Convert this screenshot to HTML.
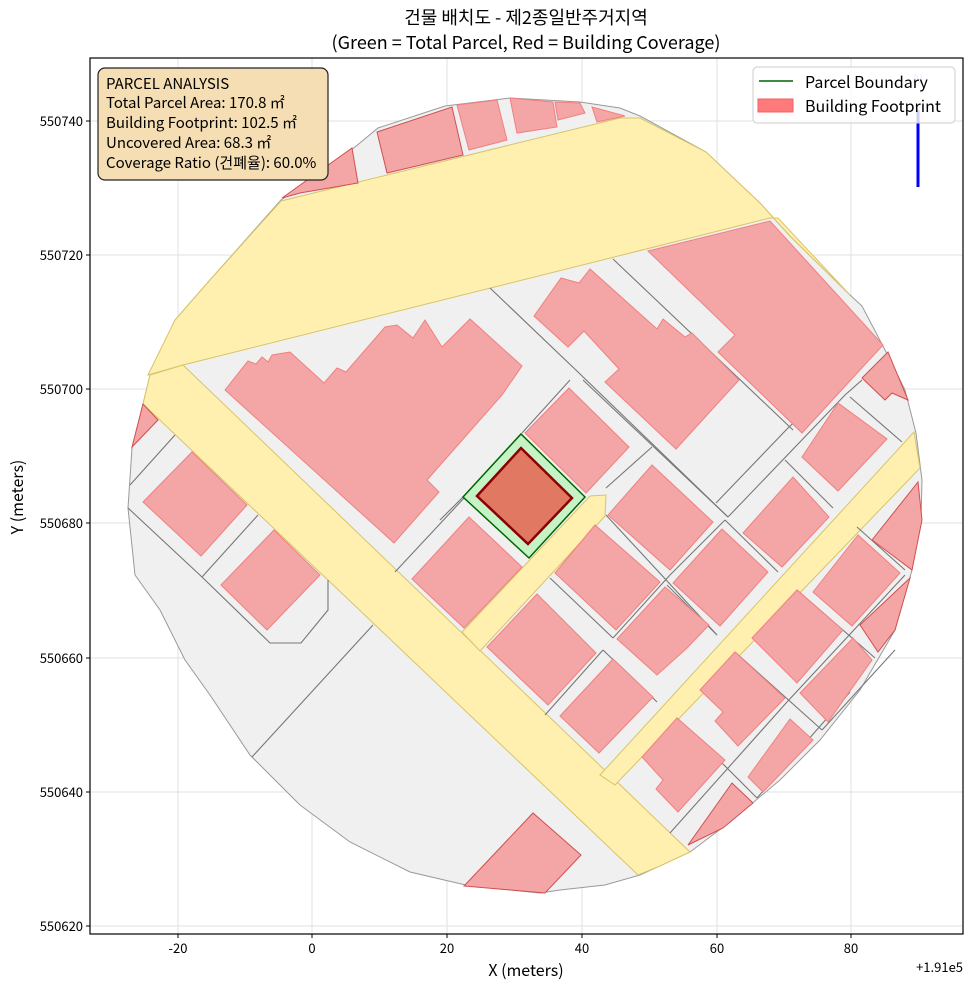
<!DOCTYPE html>
<html><head><meta charset="utf-8"><style>
html,body{margin:0;padding:0;background:#fff;}
svg{display:block;font-family:"Noto Sans CJK KR","Liberation Sans",sans-serif;}
</style></head><body>
<svg width="972" height="990" viewBox="0 0 972 990" xmlns="http://www.w3.org/2000/svg">
<rect width="972" height="990" fill="#fff"/>
<g stroke="#e2e2e2" stroke-width="1">
<line x1="178" y1="58" x2="178" y2="934"/><line x1="312" y1="58" x2="312" y2="934"/><line x1="447" y1="58" x2="447" y2="934"/><line x1="582" y1="58" x2="582" y2="934"/><line x1="717" y1="58" x2="717" y2="934"/><line x1="851" y1="58" x2="851" y2="934"/>
<line x1="90" y1="121" x2="963" y2="121"/><line x1="90" y1="255" x2="963" y2="255"/><line x1="90" y1="389" x2="963" y2="389"/><line x1="90" y1="523" x2="963" y2="523"/><line x1="90" y1="658" x2="963" y2="658"/><line x1="90" y1="792" x2="963" y2="792"/><line x1="90" y1="926" x2="963" y2="926"/>
</g>
<polygon fill="#f0f0f0" stroke="#999" stroke-width="1" points="281,200 355,147 378,128 445,106 510,98 580,102 620,108 640,116 706,152 760,203 790,236 850,295 862,306 885,350 905,390 916,433 922,480 921,520 912,570 895,630 860,690 820,740 780,780 730,822 690,852 640,875 605,885 560,890 540,893 470,886 410,872 350,842 300,805 250,755 210,695 185,660 160,610 135,575 128,508 132,448 143,404 150,375 175,320 210,280"/>
<g fill="#fff0b0" stroke="#d8c468" stroke-width="1">
<polygon points="281,201 620,118 640,118 706,152 760,203 790,236 850,295 778,218 770,218 183,365 148,375 175,320 210,280"/>
<polygon points="150,375 183,365 690,852 660,866 638,875 143,404"/>
<polygon points="462,632 590,496 606,495 605,516 480,651"/>
<polygon points="600,775 914,432 920,468 615,785"/>
</g>
<g stroke="#777" stroke-width="1.1" fill="none">
<polyline points="490,288 579,373 728,517"/>
<line x1="613" y1="259" x2="793" y2="430"/>
<line x1="850" y1="397" x2="902" y2="442"/>
<line x1="583" y1="380" x2="728" y2="517"/>
<line x1="606" y1="515" x2="717" y2="635"/>
<line x1="550" y1="578" x2="613" y2="638"/>
<line x1="603" y1="650" x2="657" y2="702"/>
<line x1="785" y1="460" x2="833" y2="508"/>
<line x1="725" y1="520" x2="778" y2="572"/>
<line x1="667" y1="585" x2="717" y2="635"/>
<line x1="797" y1="590" x2="875" y2="658"/>
<line x1="735" y1="652" x2="822" y2="730"/>
<line x1="677" y1="718" x2="757" y2="798"/>
<line x1="857" y1="527" x2="905" y2="570"/>
<line x1="522" y1="433" x2="570" y2="380"/>
<line x1="440" y1="520" x2="463" y2="497"/>
<line x1="652" y1="447" x2="606" y2="488"/>
<polyline points="716,503 788,428 855,365"/>
<polyline points="728,517 845,395 862,380"/>
<line x1="670" y1="575" x2="725" y2="520"/>
<line x1="613" y1="638" x2="670" y2="575"/>
<line x1="545" y1="715" x2="603" y2="650"/>
<line x1="670" y1="833" x2="787" y2="702"/>
<line x1="787" y1="702" x2="905" y2="575"/>
<line x1="757" y1="798" x2="850" y2="692"/>
<line x1="822" y1="730" x2="895" y2="650"/>
<line x1="130" y1="485" x2="175" y2="435"/>
<polyline points="128,508 202,577 270,643 301,643 328,610 328,580"/>
<line x1="202" y1="577" x2="258" y2="515"/>
<line x1="252" y1="757" x2="373" y2="625"/>
<line x1="395" y1="572" x2="465" y2="497"/>
</g>
<g fill="#f4a5a5" stroke="#f08080" stroke-width="1">
<polygon points="225,390 248,361 256,364 262,357 268,362 272,355 290,352 324,383 337,368 346,372 385,327 397,325 413,338 425,320 442,347 470,319 522,366 502,395 427,480 439,492 394,543"/>
<polygon points="534,316 561,278 579,283 590,269 657,329 663,319 685,337 692,333 739,380 676,449 605,382 619,369 584,331 568,347"/>
<polygon points="648,251 770,221 883,345 802,433 718,352 735,335"/>
<polygon points="282,198 352,148 358,183 300,193" stroke="#d05050"/>
<polygon points="377,132 452,107 463,155 387,173" stroke="#d05050"/>
<polygon points="457,105 497,100 507,140 469,150"/>
<polygon points="510,98 553,102 557,127 517,133"/>
<polygon points="555,102 580,103 585,113 558,120"/>
<polygon points="592,107 625,116 597,122"/>
<polygon points="862,378 888,352 908,400 892,393 885,400" stroke="#d05050"/>
<polygon points="132,447 143,404 158,420" stroke="#d05050"/>
<polygon points="143,502 192,452 247,505 201,556"/>
<polygon points="221,585 274,530 320,575 267,630"/>
<polygon points="412,579 469,517 522,567 464,628"/>
<polygon points="464,886 533,813 581,855 545,893" stroke="#d05050"/>
<polygon points="525,433 569,388 629,447 586,493"/>
<polygon points="608,515 652,465 713,522 670,570"/>
<polygon points="555,573 595,525 660,582 616,630"/>
<polygon points="487,647 537,594 596,653 548,705"/>
<polygon points="673,583 722,529 768,572 720,626"/>
<polygon points="617,639 665,587 709,625 687,648 657,675"/>
<polygon points="560,716 613,659 653,697 599,753"/>
<polygon points="743,533 793,477 829,517 782,567"/>
<polygon points="802,457 838,403 887,439 838,491"/>
<polygon points="813,592 858,535 900,573 852,626"/>
<polygon points="752,638 797,590 843,630 797,683"/>
<polygon points="700,690 735,652 785,698 738,746 715,721 723,712"/>
<polygon points="800,693 853,638 872,660 828,722"/>
<polygon points="872,540 918,482 922,520 912,570" stroke="#d05050"/>
<polygon points="860,625 910,578 895,630 878,652" stroke="#d05050"/>
<polygon points="642,757 677,718 725,760 678,812 656,789 663,780"/>
<polygon points="748,777 790,719 813,740 763,792"/>
<polygon points="688,845 732,783 753,803 723,828" stroke="#d05050"/>
</g>
<polygon points="463,497 521,434 585,497 529,558" fill="#c6f3c6" stroke="#006400" stroke-width="1.5"/>
<polygon points="477,496 521,448 572,498 528,544" fill="#e07862" stroke="#8b0000" stroke-width="2.5"/>
<rect x="90" y="58" width="873" height="876" fill="none" stroke="#000" stroke-width="1.2"/>
<g stroke="#000" stroke-width="1">
<line x1="178" y1="934" x2="178" y2="938"/><line x1="312" y1="934" x2="312" y2="938"/><line x1="447" y1="934" x2="447" y2="938"/><line x1="582" y1="934" x2="582" y2="938"/><line x1="717" y1="934" x2="717" y2="938"/><line x1="851" y1="934" x2="851" y2="938"/>
<line x1="86" y1="121" x2="90" y2="121"/><line x1="86" y1="255" x2="90" y2="255"/><line x1="86" y1="389" x2="90" y2="389"/><line x1="86" y1="523" x2="90" y2="523"/><line x1="86" y1="658" x2="90" y2="658"/><line x1="86" y1="792" x2="90" y2="792"/><line x1="86" y1="926" x2="90" y2="926"/>
</g>
<g font-size="13" fill="#000" text-anchor="middle">
<text x="178" y="953">-20</text><text x="312" y="953">0</text><text x="447" y="953">20</text><text x="582" y="953">40</text><text x="717" y="953">60</text><text x="851" y="953">80</text>
</g>
<g font-size="13" fill="#000" text-anchor="end">
<text x="83" y="126">550740</text><text x="83" y="260">550720</text><text x="83" y="394">550700</text><text x="83" y="528">550680</text><text x="83" y="663">550660</text><text x="83" y="797">550640</text><text x="83" y="931">550620</text>
</g>
<text x="963" y="972" font-size="13" text-anchor="end">+1.91e5</text>
<text x="526" y="976" font-size="16" text-anchor="middle">X (meters)</text>
<text transform="translate(23,497) rotate(-90)" font-size="16" text-anchor="middle">Y (meters)</text>
<text x="526" y="24" font-size="18" text-anchor="middle">건물 배치도 - 제2종일반주거지역</text>
<text x="526" y="49" font-size="18" text-anchor="middle">(Green = Total Parcel, Red = Building Coverage)</text>
<text x="918" y="84" font-size="14" fill="#aab4ff" text-anchor="middle">N</text>
<line x1="918" y1="110" x2="918" y2="187" stroke="#0000ff" stroke-width="3"/>
<rect x="753" y="67" width="202" height="56" rx="4" fill="#fff" fill-opacity="0.8" stroke="#ccc"/>
<line x1="759" y1="81" x2="793" y2="81" stroke="#006400" stroke-width="1.5"/>
<text x="805" y="88" font-size="16">Parcel Boundary</text>
<rect x="758" y="99" width="35" height="13" fill="#ff7a7a" stroke="#f06060"/>
<text x="805" y="112" font-size="16">Building Footprint</text>
<rect x="98" y="68" width="230" height="112" rx="7" fill="#f5deb3" stroke="#222" stroke-width="1.2"/>
<g font-size="15" fill="#000">
<text x="106" y="89">PARCEL ANALYSIS</text>
<text x="106" y="108">Total Parcel Area: 170.8 ㎡</text>
<text x="106" y="128">Building Footprint: 102.5 ㎡</text>
<text x="106" y="148">Uncovered Area: 68.3 ㎡</text>
<text x="106" y="168">Coverage Ratio (건폐율): 60.0%</text>
</g>
</svg>
</body></html>
